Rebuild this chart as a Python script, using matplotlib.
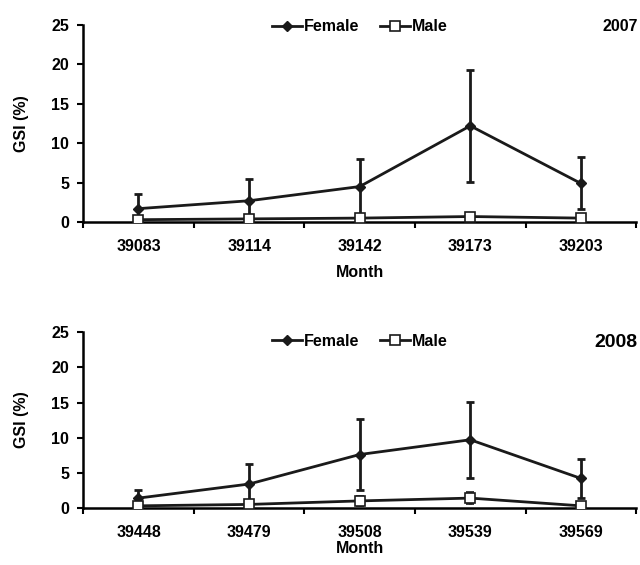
import numpy as np
import matplotlib.pyplot as plt
from matplotlib.lines import Line2D

plt.rcParams['font.family'] = ['Liberation Sans', 'DejaVu Sans']
plt.rcParams['font.weight'] = 'bold'

# 2007 data
months_2007 = ['39083', '39114', '39142', '39173', '39203']
female_2007 = [1.7, 2.7, 4.5, 12.2, 4.9]
female_err_2007 = [1.9, 2.8, 3.5, 7.1, 3.3]
male_2007 = [0.3, 0.4, 0.5, 0.7, 0.5]
male_err_2007 = [0.2, 0.2, 0.3, 0.3, 0.2]

# 2008 data
months_2008 = ['39448', '39479', '39508', '39539', '39569']
female_2008 = [1.4, 3.4, 7.6, 9.7, 4.2]
female_err_2008 = [1.2, 2.8, 5.0, 5.4, 2.8]
male_2008 = [0.3, 0.5, 1.0, 1.4, 0.3]
male_err_2008 = [0.3, 0.3, 0.7, 0.9, 0.2]

ink = '#1a1a1a'


def draw_panel(ax, months, female, female_err, male, male_err, year, year_size,
               month_pad, legend_y, year_y):
    x = np.arange(len(months))
    ax.errorbar(x, female, yerr=female_err, color=ink, lw=2, marker='D',
                ms=5.5, capsize=3, capthick=2, elinewidth=2, zorder=3)
    ax.errorbar(x, male, yerr=male_err, color=ink, lw=2, marker='s',
                ms=7, mfc='white', mec=ink, mew=1.2, capsize=3, capthick=2,
                elinewidth=2, zorder=4)
    ax.set_xlim(-0.5, len(months) - 0.5)
    ax.set_ylim(0, 25)
    ax.set_yticks([0, 5, 10, 15, 20, 25])
    # category boundaries get the tick marks, labels sit at the centres
    ax.set_xticks(np.arange(len(months) + 1) - 0.5)
    ax.set_xticklabels([])
    ax.set_xticks(x, minor=True)
    ax.set_xticklabels(months, minor=True, fontsize=11.5, fontweight='bold')
    ax.tick_params(axis='x', which='minor', length=0, pad=12)
    ax.tick_params(axis='x', which='major', length=4, width=1.5, direction='out')
    ax.tick_params(axis='y', length=4, width=1.5, direction='out', labelsize=11.5, pad=6)
    for s in ['top', 'right']:
        ax.spines[s].set_visible(False)
    for s in ['left', 'bottom']:
        ax.spines[s].set_linewidth(1.8)
    ax.set_xlabel('Month', fontsize=11.5, fontweight='bold', labelpad=month_pad)
    ax.set_ylabel('GSI (%)', fontsize=11.5, fontweight='bold', labelpad=16)
    handles = [
        Line2D([], [], color=ink, lw=2, marker='D', ms=5),
        Line2D([], [], color=ink, lw=2, marker='s', ms=7, mfc='white', mec=ink, mew=1.2),
    ]
    ax.legend(handles, ['Female', 'Male'], loc='center', bbox_to_anchor=(0.5, legend_y),
              ncol=2, frameon=False, fontsize=11.5, handlelength=1.9,
              handletextpad=0.1, columnspacing=1.3)
    ax.text(1.003, year_y, year, transform=ax.transAxes, ha='right', va='center',
            fontsize=year_size, fontweight='bold')


fig = plt.figure(figsize=(6.4, 5.65), dpi=100)
ax1 = fig.add_axes([0.13, 0.607, 0.864, 0.349])
ax2 = fig.add_axes([0.13, 0.101, 0.864, 0.311])

draw_panel(ax1, months_2007, female_2007, female_err_2007, male_2007, male_err_2007,
           '2007', 11.5, 8, 0.99, 0.99)
draw_panel(ax2, months_2008, female_2008, female_err_2008, male_2008, male_err_2008,
           '2008', 14, 1, 0.95, 0.94)

plt.savefig('out.png', dpi=100)
